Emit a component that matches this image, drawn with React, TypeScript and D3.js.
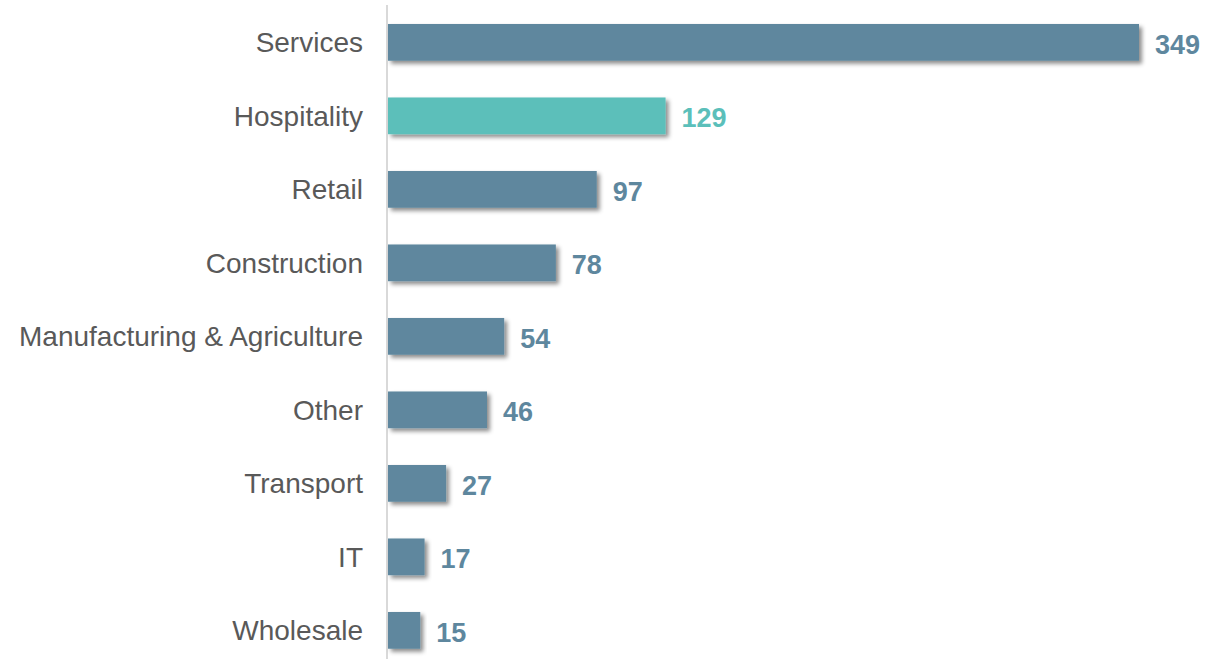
import React from "react";
import * as d3 from "d3";

const categories = ["Services", "Hospitality", "Retail", "Construction", "Manufacturing & Agriculture", "Other", "Transport", "IT", "Wholesale"];
const values = [349, 129, 97, 78, 54, 46, 27, 17, 15];
const highlighted = ["Hospitality"];

const W = 1219;
const H = 659;
const BAR = "#5e879e";
const TEAL = "#5bbfba";

export default function App() {
  const x = d3.scaleLinear().domain([0, 349]).range([388, 1139]);
  const y = d3.scaleBand<string>().domain(categories).range([5.6, 667.1]).paddingInner(0.5).paddingOuter(0.25);
  return (
    <svg width={W} height={H} style={{ position: "absolute", left: 0, top: 0 }} fontFamily="'Liberation Sans', Arial, sans-serif">
      <defs>
        <filter id="sh" x="-10%" y="-30%" width="130%" height="180%">
          <feDropShadow dx="3" dy="3" stdDeviation="2.2" floodColor="#000" floodOpacity="0.45" />
        </filter>
      </defs>
      <rect width={W} height={H} fill="#fff" />
      <line x1={387} x2={387} y1={5} y2={H} stroke="#d9d9d9" strokeWidth={2} />
      {categories.map((c, i) => {
        const col = highlighted.includes(c) ? TEAL : BAR;
        const yy = y(c)!;
        const cy = yy + y.bandwidth() / 2;
        return (
          <g key={c}>
            <rect x={x(0)} y={yy} width={x(values[i]) - x(0)} height={y.bandwidth()} fill={col} filter="url(#sh)" />
            <text x={363} y={cy} dy="0.35em" textAnchor="end" fontSize={28} fill="#595959">{c}</text>
            <text x={x(values[i]) + 16} y={cy + 2} dy="0.35em" fontSize={27} fontWeight="bold" fill={col}>{values[i]}</text>
          </g>
        );
      })}
    </svg>
  );
}
